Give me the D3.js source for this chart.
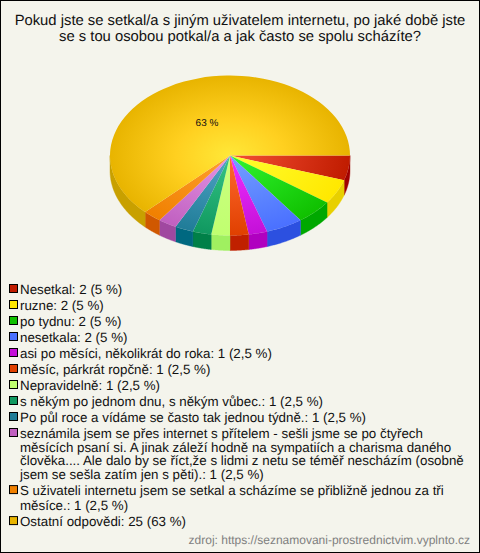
<!DOCTYPE html>
<html><head><meta charset="utf-8">
<script src="https://cdn.jsdelivr.net/npm/d3@7"></script>
<style>html,body{margin:0;padding:0;background:#f4f4ec}svg{display:block}text{font-family:"Liberation Sans",Arial,sans-serif}</style>
</head><body><svg id="c" width="480" height="553"></svg>
<script>
const titleLines = ["Pokud jste se setkal/a s jiným uživatelem internetu, po jaké době jste","se s tou osobou potkal/a a jak často se spolu scházíte?"];
const categories = ["Nesetkal","ruzne","po tydnu","nesetkala","asi po měsíci, několikrát do roka","měsíc, párkrát ropčně","Nepravidelně","s někým po jednom dnu, s někým vůbec.","Po půl roce a vídáme se často tak jednou týdně.","seznámila jsem se přes internet s přítelem - sešli jsme se po čtyřech měsících psaní si. A jinak záleží hodně na sympatiích a charisma daného člověka.... Ale dalo by se říct,že s lidmi z netu se téměř nescházím (osobně jsem se sešla zatím jen s pěti).","S uživateli internetu jsem se setkal a scházíme se přibližně jednou za tři měsíce.","Ostatní odpovědi"];
const values = [2,2,2,2,1,1,1,1,1,1,1,25];
const percents = ["5 %","5 %","5 %","5 %","2,5 %","2,5 %","2,5 %","2,5 %","2,5 %","2,5 %","2,5 %","63 %"];
const outerColors = ["#c01c00","#ffe800","#10c000","#4a70ff","#c410d8","#e04000","#c0ff70","#109860","#207c98","#c060c0","#f08000","#e8b400"];
const innerColors = ["#f55035","#ffff30","#30f530","#75a0ff","#f030ff","#ff6a30","#ccff80","#35c585","#50a5c5","#e595e5","#ffa030","#ffe838"];
const wallColors = ["#a00000","#e8d000","#00a800","#2c50e0","#b000c0","#c02000","#a0f060","#008048","#006880","#a048a0","#d05800","#c8a000"];

const W=480,H=553,cx=230,cy=155.5,rx=120,ry=80,depth=15;
const svg=d3.select("#c").style("text-rendering","geometricPrecision");
svg.append("rect").attr("x",.5).attr("y",.5).attr("width",W-1).attr("height",H-1).attr("fill","#f4f4ec").attr("stroke","#000");
svg.append("g").selectAll("text").data(titleLines).join("text")
  .attr("x",240).attr("y",(d,i)=>25+i*15.5).attr("text-anchor","middle").attr("font-size",14.8).attr("fill","#111").text(d=>d);

const pie=d3.pie().sort(null).value(d=>d).startAngle(Math.PI/2).endAngle(Math.PI/2+2*Math.PI);
const arcs=pie(values);
const defs=svg.append("defs");
arcs.forEach((a,i)=>{
  const g=defs.append("radialGradient").attr("id","g"+i).attr("gradientUnits","userSpaceOnUse").attr("cx",0).attr("cy",0).attr("r",rx);
  g.append("stop").attr("offset",0).attr("stop-color",innerColors[i]);
  if(i===11){g.append("stop").attr("offset",.45).attr("stop-color","#ffd020");}
  g.append("stop").attr("offset",1).attr("stop-color",outerColors[i]);
});
const sy=ry/rx;
const wall=svg.append("g");
const px=t=>cx+rx*Math.sin(t), py=t=>cy-ry*Math.cos(t);
arcs.forEach((a,i)=>{
  const s=Math.max(a.startAngle,Math.PI/2), e=Math.min(a.endAngle,3*Math.PI/2);
  const pts=d3.range(0,41).map(k=>s+(e-s)*k/40);
  const top=pts.map(t=>[px(t),py(t)]), bot=pts.slice().reverse().map(t=>[px(t),py(t)+depth]);
  if(e>s) wall.append("path").attr("d",d3.line()(top.concat(bot))+"Z").attr("fill",wallColors[i]).attr("stroke",wallColors[i]).attr("stroke-width",.4);
});
const arc=d3.arc().innerRadius(0).outerRadius(rx);
svg.append("g").attr("transform",`translate(${cx},${cy}) scale(1,${sy})`)
  .selectAll("path").data(arcs).join("path").attr("d",arc).attr("fill",(d,i)=>`url(#g${i})`);
svg.append("text").attr("x",207).attr("y",126).attr("text-anchor","middle").attr("font-size",10).attr("fill","#111").text(percents[11]);

const leg=svg.append("g");
let y=294;const maxW=452,fs=13.33;
const probe=svg.append("text").attr("font-size",fs).attr("visibility","hidden");
const wrap=s=>{const out=[];let cur="";s.split(" ").forEach(w=>{const t=cur?cur+" "+w:w;probe.text(t);
  if(probe.node().getComputedTextLength()>maxW&&cur){out.push(cur);cur=w}else cur=t});out.push(cur);return out};
categories.forEach((c,i)=>{
  const lines=wrap(`${c}: ${values[i]} (${percents[i]})`);
  const lh=lines.length>2?13.7:15;
  leg.append("rect").attr("x",9.5).attr("y",y-9.5).attr("width",8).attr("height",8).attr("fill",outerColors[i]).attr("stroke","#000");
  lines.forEach((l,k)=>leg.append("text").attr("x",20).attr("y",y+k*lh).attr("font-size",fs).attr("fill","#111").text(l));
  y+=16+(lines.length-1)*lh;
});
probe.remove();
svg.append("text").attr("x",470).attr("y",544).attr("text-anchor","end").attr("font-size",12).attr("fill","#808080").text("zdroj: https://seznamovani-prostrednictvim.vyplnto.cz");
</script></body></html>
